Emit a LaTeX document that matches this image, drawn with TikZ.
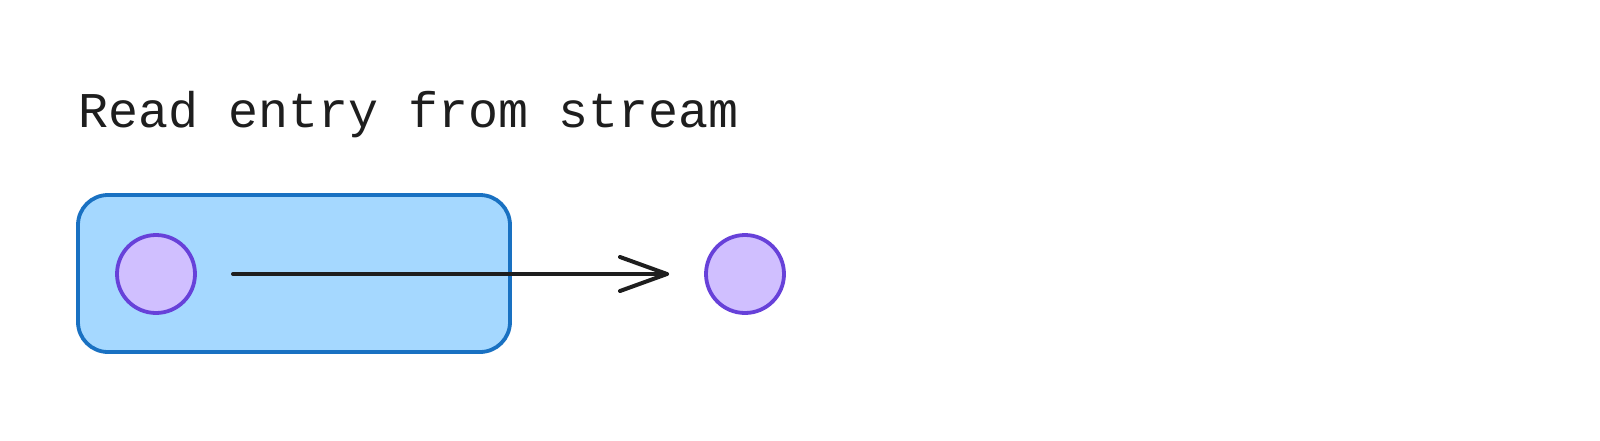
\documentclass[tikz,border=0pt]{standalone}
\usepackage{fontspec}
\setmonofont{Liberation Mono}
\definecolor{boxfill}{HTML}{A5D8FF}
\definecolor{boxline}{HTML}{1971C2}
\definecolor{dotfill}{HTML}{D0BFFF}
\definecolor{dotline}{HTML}{6741D9}
\definecolor{ink}{HTML}{1E1E1E}
\tikzset{
  blockbox/.style={draw=boxline, fill=boxfill, line width=3.8pt, rounded corners=30pt},
  dot/.style={circle, draw=dotline, fill=dotfill, line width=3.8pt, minimum size=78pt, inner sep=0pt},
  flow/.style={draw=ink, line width=4pt, line cap=round, line join=round},
  title/.style={font=\ttfamily\fontsize{50}{60}\selectfont, text=ink, inner sep=0pt, anchor=base west}
}
\begin{document}
\begin{tikzpicture}[x=1pt,y=-1pt]
\useasboundingbox (0,0) rectangle (1600,440);
\fill[white] (0,0) rectangle (1600,440);
\node[title] (t) at (78,127) {Read entry from stream};
\draw[blockbox] (78,195) rectangle (510,352);
\node[dot] (a) at (156,274) {};
\node[dot] (b) at (745,274) {};
\coordinate (s) at (233,274);
\coordinate (e) at (667,274);
\draw[flow] (s) -- (e);
\draw[flow] (620,257) -- (e) -- (620,291);
\end{tikzpicture}
\end{document}
